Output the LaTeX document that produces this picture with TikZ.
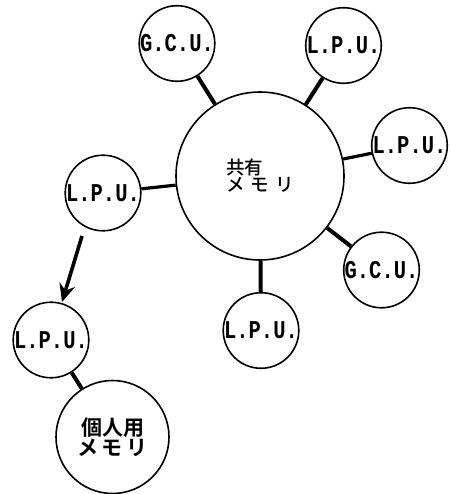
\documentclass[tikz,border=0pt]{standalone}
\usepackage{fontspec}
\newfontfamily\monof[BoldFont={Liberation Mono Bold}]{Liberation Mono}
\newfontfamily\jpf[BoldFont={Noto Sans CJK JP Bold}]{Noto Sans CJK JP Medium}
\usetikzlibrary{arrows.meta}
\begin{document}
\begin{tikzpicture}[x=1pt,y=-1pt,
  unit/.style={circle,draw,line width=1.6pt,minimum size=75pt,inner sep=0pt,
    font=\monof\bfseries\fontsize{20.5}{20}\selectfont},
  mem/.style={circle,draw,line width=1.6pt,inner sep=0pt,align=center},
  link/.style={line width=4pt}]
\useasboundingbox (0,0) rectangle (450,494);
\node[mem,minimum size=168pt,align=left,font=\jpf\fontsize{18.5}{15}\selectfont] (shared) at (260,176) {共有\\メ\,\,モ\,\,リ};
\node[unit] (g1) at (177,43.5) {\scalebox{1}[1.25]{G.C.U.}};
\node[unit] (l1) at (343.5,45.5) {\scalebox{1}[1.25]{L.P.U.}};
\node[unit] (l2) at (409.5,145.5) {\scalebox{1}[1.25]{L.P.U.}};
\node[unit] (l3) at (103,193) {\scalebox{1}[1.25]{L.P.U.}};
\node[unit] (g2) at (381.5,270) {\scalebox{1}[1.25]{G.C.U.}};
\node[unit] (l4) at (261,330.5) {\scalebox{1}[1.25]{L.P.U.}};
\node[unit] (l5) at (51,340) {\scalebox{1}[1.25]{L.P.U.}};
\node[mem,minimum size=113pt,font=\jpf\bfseries\fontsize{21}{18}\selectfont] (priv) at (112.5,437) {個人用\\メ\,モ\,リ};
\draw[link] (shared) -- (g1);
\draw[link] (shared) -- (l1);
\draw[link,line width=3.2pt] (shared) -- (l2);
\draw[link,line width=3.2pt] (shared) -- (l3);
\draw[link] (shared) -- (g2);
\draw[link] (shared) -- (l4);
\draw[link] (l5) -- (priv);
\coordinate (a1) at (82,236);
\coordinate (a2) at (62,302);
\draw[line width=3.6pt,-{Stealth[length=18pt,width=16pt,inset=6pt]}] (a1) -- (a2);
\end{tikzpicture}
\end{document}
